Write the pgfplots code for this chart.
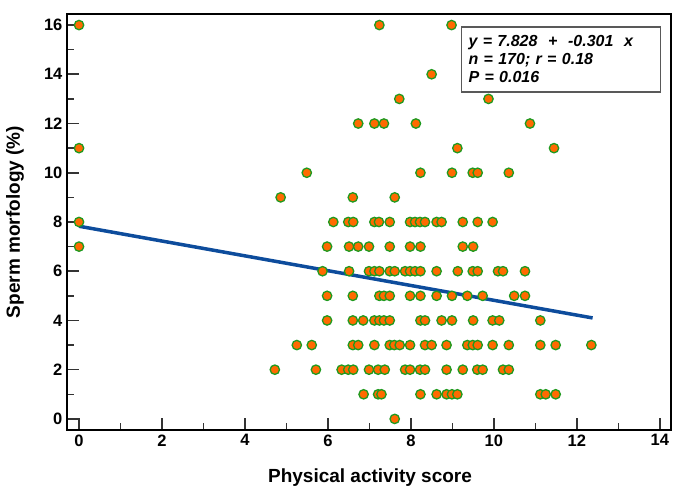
\documentclass[border=0pt]{standalone}
\usepackage{pgfplots}
\pgfplotsset{compat=1.18}
\usepackage{fontspec}
\setmainfont{Liberation Sans}
\definecolor{ptfill}{HTML}{FF6A00}
\definecolor{ptedge}{HTML}{1F9A1F}
\definecolor{regline}{HTML}{0D4C9C}
\begin{document}
\begin{tikzpicture}[x=1pt,y=1pt]
\useasboundingbox (0,0) rectangle (678,494);
\begin{axis}[at={(67pt,64pt)}, anchor=south west, scale only axis,
  width=604pt, height=416pt,
  xmin=-0.29, xmax=14.27, ymin=-0.45, ymax=16.45,
  xtick={0,2,...,14}, ytick={0,2,...,16},
  minor x tick num=1, minor y tick num=1,
  tick pos=left, tick align=inside,
  major tick length=12pt, minor tick length=7pt,
  every axis/.append style={line width=2.6pt},
  every tick/.style={line width=1.6pt, color=black!80},
  axis line style={line width=2.6pt},
  tick label style={font=\bfseries\fontsize{16.5}{18}\selectfont},
  /pgf/number format/assume math mode=true,
  xlabel={Physical activity score},
  ylabel={Sperm morfology (\%)},
  label style={font=\bfseries\fontsize{19}{21}\selectfont},
  xlabel style={at={(axis description cs:0.5017,-0.115)}, anchor=center},
  ylabel style={at={(axis description cs:-0.086,0.5)}, anchor=center},
  clip=false,
]
\addplot[only marks, mark=*, mark size=4.7pt,
  mark options={fill=ptfill, draw=ptedge, line width=1.3pt}] table {
x y
0 16
7.24 16
8.98 16
8.50 14
7.72 13
9.87 13
6.73 12
7.12 12
7.35 12
8.12 12
10.87 12
0 11
9.12 11
11.45 11
5.49 10
8.23 10
8.99 10
9.49 10
9.61 10
10.36 10
4.86 9
6.60 9
7.61 9
0 8
6.13 8
6.49 8
6.61 8
7.12 8
7.23 8
7.49 8
7.98 8
8.10 8
8.22 8
8.34 8
8.62 8
8.74 8
9.25 8
9.61 8
9.97 8
0 7
5.98 7
6.51 7
6.73 7
6.99 7
7.49 7
7.98 7
8.23 7
9.25 7
9.50 7
5.87 6
6.51 6
6.99 6
7.12 6
7.24 6
7.49 6
7.61 6
7.86 6
7.98 6
8.10 6
8.23 6
8.62 6
9.13 6
9.49 6
9.61 6
10.10 6
10.22 6
10.75 6
5.98 5
6.60 5
7.24 5
7.35 5
7.49 5
7.98 5
8.23 5
8.62 5
8.99 5
9.36 5
9.73 5
10.49 5
10.75 5
5.98 4
6.60 4
6.85 4
7.12 4
7.24 4
7.35 4
7.49 4
8.23 4
8.34 4
8.74 4
8.99 4
9.50 4
9.97 4
10.13 4
11.12 4
5.25 3
5.61 3
6.60 3
6.73 3
7.12 3
7.49 3
7.60 3
7.73 3
7.98 3
8.34 3
8.50 3
8.86 3
9.36 3
9.49 3
9.61 3
9.97 3
10.36 3
11.12 3
11.49 3
12.35 3
4.72 2
5.71 2
6.33 2
6.49 2
6.61 2
6.99 2
7.21 2
7.37 2
7.86 2
7.98 2
8.22 2
8.34 2
8.86 2
9.25 2
9.60 2
9.73 2
10.22 2
10.36 2
6.86 1
7.21 1
7.29 1
8.23 1
8.62 1
8.86 1
8.99 1
9.12 1
11.12 1
11.25 1
11.49 1
7.61 0
};
\addplot[regline, line width=3.5pt] coordinates {(0,7.828) (12.38,4.102)};
\node[draw=black!65, line width=1.5pt, anchor=north west, fill=white,
  minimum width=199pt, minimum height=65pt, text width=185pt, inner sep=6pt,
  align=left, font=\bfseries\itshape\fontsize{16}{18}\selectfont]
  at (rel axis cs:0.652,0.971)
  {y = 7.828~~+~~-0.301~~x\\ n = 170; r = 0.18\\ P = 0.016};
\end{axis}
\end{tikzpicture}
\end{document}
